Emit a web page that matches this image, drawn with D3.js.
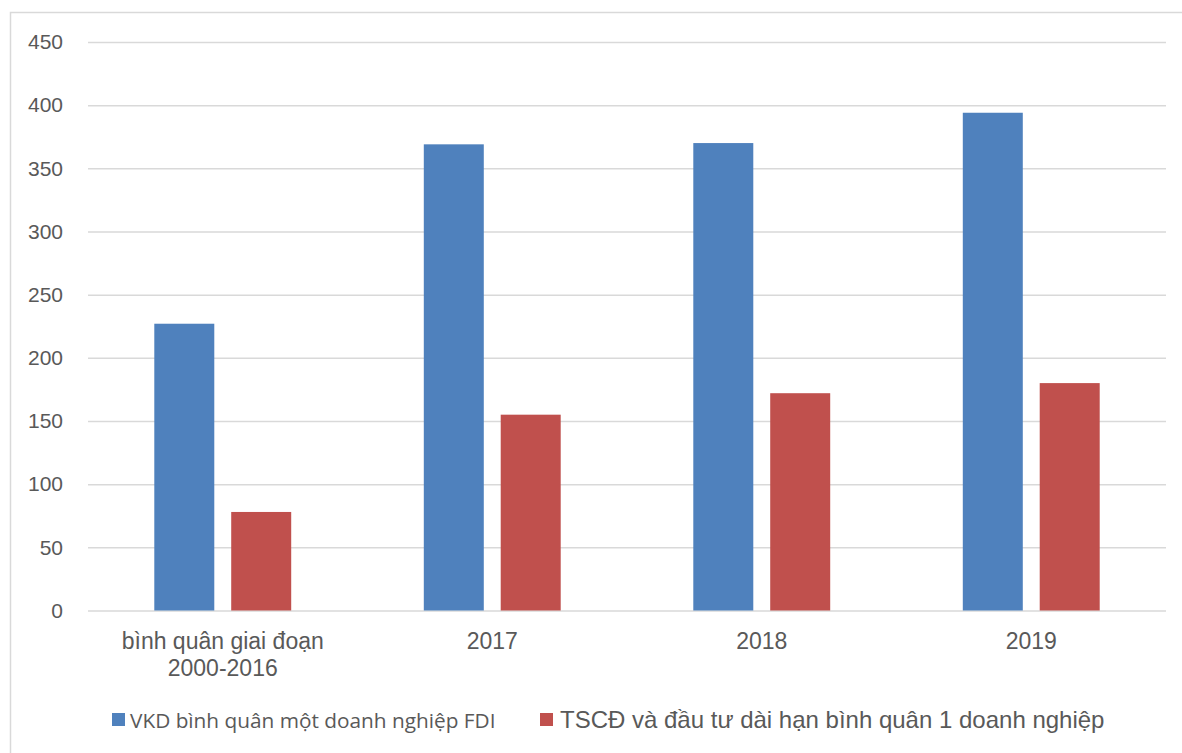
<!DOCTYPE html>
<html>
<head>
<meta charset="utf-8">
<script src="https://cdn.jsdelivr.net/npm/d3@7"></script>
<style>
  html, body { margin: 0; padding: 0; background: #fff; }
  svg { display: block; }
</style>
</head>
<body>
<svg id="chart" width="1182" height="753"></svg>
<script>
// Categories (second label line after "|")
const categories = ["bình quân giai đoạn|2000-2016", "2017", "2018", "2019"];
const seriesNames = [
  "VKD bình quân một doanh nghiệp FDI",
  "TSCĐ và đầu tư dài hạn bình quân 1 doanh nghiệp"
];
const vkdValues = [227, 369, 370, 394];
const tscdValues = [78, 155, 172, 180];
const yTicks = [0, 50, 100, 150, 200, 250, 300, 350, 400, 450];
const colors = ["#4F81BD", "#C0504D"];

const svg = d3.select("#chart");
const W = 1182, H = 753;
const plot = { left: 88, right: 1166, top: 42, bottom: 610.5 };

// outer chart frame (continues past the right and bottom edges)
svg.append("rect")
  .attr("x", 10.5).attr("y", 12.5)
  .attr("width", W + 20).attr("height", H + 20)
  .attr("fill", "#fff").attr("stroke", "#D9D9D9").attr("stroke-width", 1.5);

const y = d3.scaleLinear().domain([0, 450]).range([plot.bottom, plot.top]);
const x0 = d3.scaleBand().domain(categories)
  .range([plot.left, plot.right]).paddingInner(0.492).paddingOuter(0.246);
const x1 = d3.scaleBand().domain(seriesNames)
  .range([0, x0.bandwidth()]).paddingInner(0.22);

// horizontal gridlines + y tick labels
const yAxis = d3.axisLeft(y).tickValues(yTicks)
  .tickSize(-(plot.right - plot.left)).tickPadding(25).tickFormat(d3.format("d"));
const gy = svg.append("g").attr("transform", `translate(${plot.left},0)`).call(yAxis);
gy.select(".domain").remove();
gy.selectAll(".tick line").attr("stroke", "#D9D9D9").attr("stroke-width", 1.5);
gy.selectAll(".tick text")
  .attr("fill", "#595959")
  .style("font-family", "'Liberation Sans', Arial, sans-serif")
  .style("font-size", "21px");

// bars
const rows = categories.map((c, i) => ({ cat: c, vals: [vkdValues[i], tscdValues[i]] }));
const groups = svg.append("g").selectAll("g").data(rows).join("g")
  .attr("transform", d => `translate(${x0(d.cat)},0)`);
groups.selectAll("rect")
  .data(d => d.vals.map((v, j) => ({ name: seriesNames[j], value: v, j })))
  .join("rect")
  .attr("x", d => x1(d.name))
  .attr("width", x1.bandwidth())
  .attr("y", d => y(d.value))
  .attr("height", d => y(0) - y(d.value))
  .attr("fill", d => colors[d.j]);

// category labels
const gx = svg.append("g");
categories.forEach(c => {
  const lines = c.split("|");
  const t = gx.append("text")
    .attr("x", x0(c) + x0.bandwidth() / 2)
    .attr("y", 649)
    .attr("text-anchor", "middle")
    .attr("fill", "#595959")
    .style("font-family", "'Liberation Sans', Arial, sans-serif")
    .style("font-size", "23px");
  lines.forEach((l, k) => {
    t.append("tspan").attr("x", x0(c) + x0.bandwidth() / 2)
      .attr("dy", k === 0 ? 0 : 27).text(l);
  });
});

// legend
const legend = svg.append("g");
const legendItems = [
  { name: seriesNames[0], color: colors[0], sx: 112, tx: 130, font: "'Open Sans', sans-serif", size: 20.8 },
  { name: seriesNames[1], color: colors[1], sx: 540, tx: 560, font: "'Liberation Sans', Arial, sans-serif", size: 24 }
];
legendItems.forEach(it => {
  legend.append("rect").attr("x", it.sx).attr("y", 713)
    .attr("width", 13).attr("height", 13).attr("fill", it.color);
  legend.append("text").attr("x", it.tx).attr("y", 728)
    .attr("fill", "#595959")
    .style("font-family", it.font).style("font-size", it.size + "px")
    .text(it.name);
});
</script>
</body>
</html>
